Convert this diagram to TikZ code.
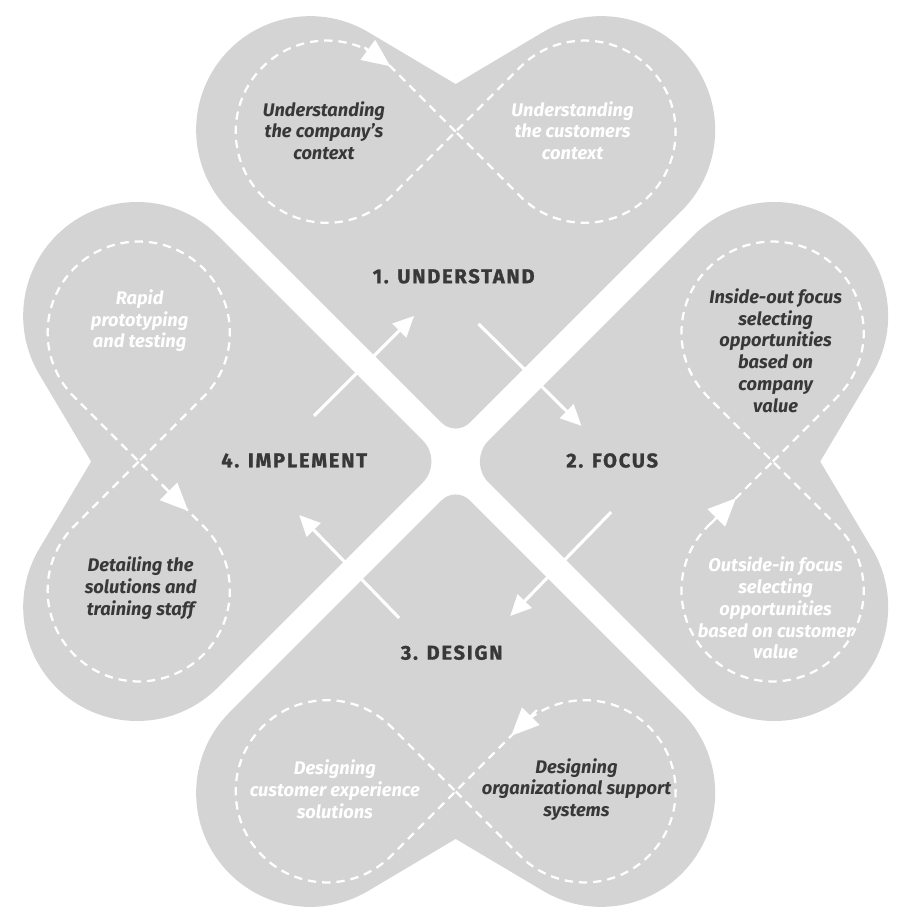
\documentclass[tikz,border=0pt]{standalone}
\usepackage{fontspec}
\setmainfont{Fira Sans}
\newfontfamily\titlefont{Fira Sans}[LetterSpace=9, BoldFeatures={FakeBold=1.2}]
\usepackage{tikz}
\usetikzlibrary{
  arrows.meta,
  positioning,
  calc
}
\definecolor{heartgray}{HTML}{D4D4D5}
\definecolor{textdark}{HTML}{383838}

\tikzset{
  pics/heart/.style={code={
    % point, right lobe, notch, left lobe
    \fill[heartgray] (-50,50) [rounded corners=#1] -- (0,0) -- (50,50) -- (60,60)
      [sharp corners] -- (228.3,228.3)
      arc[start angle=-45, end angle=120.7, radius=115]
      -- (0,356) -- (-88.27,408.47)
      arc[start angle=59.3, end angle=225, radius=115] -- cycle;
    % figure of eight
    \draw[loopline] (0,308) -- ++(-65,65) arc[start angle=45, end angle=315, radius=92]
      -- (0,308) -- ++(65,65) arc[start angle=135, end angle=-135, radius=92] -- cycle;
  }}
}

\begin{document}
\begin{tikzpicture}[
  x=0.02cm, y=0.02cm,
  loopline/.style={white, line width=1.3pt, dash pattern=on 4.8pt off 3.4pt},
  looptip/.style={white, line width=1.3pt, -{Triangle[length=16pt, width=14pt]}},
  flow/.style={white, line width=1.8pt, -{Triangle[length=12pt, width=11pt]}},
  stagelbl/.style={font=\titlefont\bfseries\fontsize{11.5}{13}\selectfont, text=textdark},
  darktxt/.style={font=\bfseries\itshape\fontsize{10.5}{12.5}\selectfont,
                  text=textdark, align=center},
  lighttxt/.style={font=\bfseries\itshape\fontsize{10.5}{12.5}\selectfont,
                   text=white, align=center},
]

  \fill[white] (0,0) rectangle (897,-923);

  % 1. Understand
  \begin{scope}[shift={(460,-439)}]
    \pic[transform shape] {heart=0.4cm};
    \draw[looptip] (-92,393) -- (-66,374);
  \end{scope}
  % 2. Focus
  \begin{scope}[shift={(472,-464)}, rotate=-90]
    \pic[transform shape] {heart=0.6cm};
    \draw[looptip] (63,245) -- (37,271);
  \end{scope}
  % 3. Design
  \begin{scope}[shift={(460,-489)}, rotate=180]
    \pic[transform shape] {heart=0.4cm};
    \draw[looptip] (-82,226) -- (-56,252);
  \end{scope}
  % 4. Implement
  \begin{scope}[shift={(448,-464)}, rotate=90]
    \pic[transform shape] {heart=0.6cm};
    \draw[looptip] (-24,284) -- (-50,258);
  \end{scope}

  % stage labels
  \node[stagelbl] (und) at (458,-277) {1. UNDERSTAND};
  \node[stagelbl] (foc) at (618,-463) {2. FOCUS};
  \node[stagelbl] (des) at (456,-657) {3. DESIGN};
  \node[stagelbl] (imp) at (297,-463) {4. IMPLEMENT};

  % loop texts
  \node[darktxt] (undA) at (327,-130) {Understanding\\the company's\\context};
  \node[lighttxt] (undB) at (578,-130) {Understanding\\the customers\\context};
  \node[darktxt] (focA) at (783,-352)
    {Inside-out focus\\selecting\\opportunities\\based on\\company\\value};
  \node[lighttxt] (focB) at (783,-612)
    {Outside-in focus\\selecting\\opportunities\\based on customer\\value};
  \node[lighttxt] (desA) at (338,-795) {Designing\\customer experience\\solutions};
  \node[darktxt] (desB) at (582,-795) {Designing\\organizational support\\systems};
  \node[lighttxt] (impA) at (141,-322) {Rapid\\prototyping\\and testing};
  \node[darktxt] (impB) at (142,-592) {Detailing the\\solutions and\\training staff};

  % arrows between stages
  \coordinate (p1a) at (317,-418); \coordinate (p1b) at (418,-317);
  \coordinate (p2a) at (483,-325); \coordinate (p2b) at (587,-428);
  \coordinate (p3a) at (617,-515); \coordinate (p3b) at (515,-620);
  \coordinate (p4a) at (403,-622); \coordinate (p4b) at (302,-518);
  \foreach \i in {1,...,4} {
    \draw[flow] (p\i a) -- (p\i b);
  }

\end{tikzpicture}
\end{document}
